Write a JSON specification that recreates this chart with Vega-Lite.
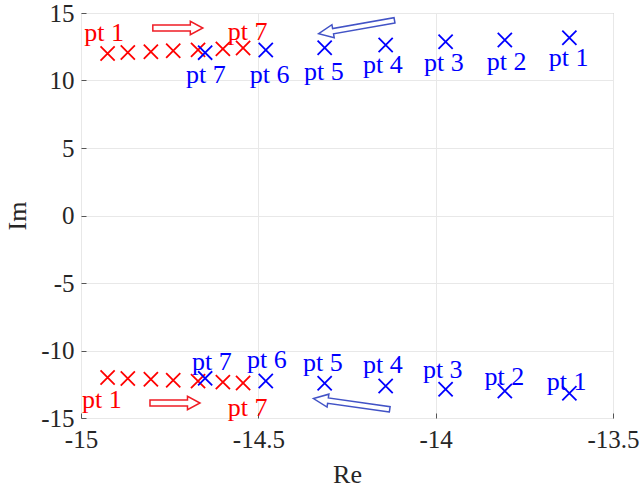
{
  "$schema": "https://vega.github.io/schema/vega-lite/v6.json",
  "autosize": "none",
  "width": 532,
  "height": 405,
  "padding": {"left": 81, "top": 13, "right": 27, "bottom": 70},
  "background": "white",
  "config": {
    "view": {"stroke": "#a8a8a8", "strokeWidth": 1},
    "axis": {
      "labelFont": "Liberation Serif",
      "titleFont": "Liberation Serif",
      "labelFontSize": 25,
      "titleFontSize": 26,
      "titleFontWeight": "normal",
      "labelColor": "#262626",
      "titleColor": "#262626",
      "gridColor": "#e8e8e8",
      "domain": false,
      "tickColor": "#555555",
      "tickSize": -5,
      "labelFlush": false,
      "labelExpr": "replace(datum.label, '\u2212', '-')"
    }
  },
  "datasets": {
    "poles": [
      {"re": -14.925, "im": 12.0, "series": "red"},
      {"re": -14.868, "im": 12.07, "series": "red"},
      {"re": -14.803, "im": 12.13, "series": "red"},
      {"re": -14.74, "im": 12.2, "series": "red"},
      {"re": -14.67, "im": 12.27, "series": "red"},
      {"re": -14.6, "im": 12.34, "series": "red"},
      {"re": -14.543, "im": 12.41, "series": "red"},
      {"re": -14.925, "im": -12.0, "series": "red"},
      {"re": -14.868, "im": -12.07, "series": "red"},
      {"re": -14.803, "im": -12.13, "series": "red"},
      {"re": -14.74, "im": -12.2, "series": "red"},
      {"re": -14.67, "im": -12.27, "series": "red"},
      {"re": -14.6, "im": -12.34, "series": "red"},
      {"re": -14.543, "im": -12.41, "series": "red"},
      {"re": -13.623, "im": 13.17, "series": "blue"},
      {"re": -13.805, "im": 13.0, "series": "blue"},
      {"re": -13.972, "im": 12.87, "series": "blue"},
      {"re": -14.141, "im": 12.63, "series": "blue"},
      {"re": -14.313, "im": 12.43, "series": "blue"},
      {"re": -14.479, "im": 12.26, "series": "blue"},
      {"re": -14.65, "im": 12.06, "series": "blue"},
      {"re": -13.623, "im": -13.17, "series": "blue"},
      {"re": -13.805, "im": -13.0, "series": "blue"},
      {"re": -13.972, "im": -12.87, "series": "blue"},
      {"re": -14.141, "im": -12.63, "series": "blue"},
      {"re": -14.313, "im": -12.43, "series": "blue"},
      {"re": -14.479, "im": -12.26, "series": "blue"},
      {"re": -14.65, "im": -12.06, "series": "blue"}
    ],
    "labels": [
      {"re": -14.648, "im": 10.41, "text": "pt 7", "series": "blue"},
      {"re": -14.468, "im": 10.41, "text": "pt 6", "series": "blue"},
      {"re": -14.315, "im": 10.63, "text": "pt 5", "series": "blue"},
      {"re": -14.149, "im": 11.15, "text": "pt 4", "series": "blue"},
      {"re": -13.977, "im": 11.3, "text": "pt 3", "series": "blue"},
      {"re": -13.8, "im": 11.37, "text": "pt 2", "series": "blue"},
      {"re": -13.625, "im": 11.67, "text": "pt 1", "series": "blue"},
      {"re": -14.631, "im": -10.85, "text": "pt 7", "series": "blue"},
      {"re": -14.476, "im": -10.7, "text": "pt 6", "series": "blue"},
      {"re": -14.318, "im": -10.93, "text": "pt 5", "series": "blue"},
      {"re": -14.149, "im": -11.07, "text": "pt 4", "series": "blue"},
      {"re": -13.98, "im": -11.44, "text": "pt 3", "series": "blue"},
      {"re": -13.806, "im": -11.96, "text": "pt 2", "series": "blue"},
      {"re": -13.631, "im": -12.33, "text": "pt 1", "series": "blue"},
      {"re": -14.935, "im": 13.52, "text": "pt 1", "series": "red"},
      {"re": -14.53, "im": 13.59, "text": "pt 7", "series": "red"},
      {"re": -14.941, "im": -13.67, "text": "pt 1", "series": "red"},
      {"re": -14.53, "im": -14.26, "text": "pt 7", "series": "red"}
    ],
    "arrows": [
      {"re": -14.727, "im": 13.89, "dir": 0, "series": "red"},
      {"re": -14.735, "im": -13.89, "dir": 0, "series": "red"},
      {"re": -14.223, "im": 13.96, "dir": 170, "series": "blue"},
      {"re": -14.237, "im": -13.96, "dir": 188, "series": "blue"}
    ]
  },
  "encoding": {
    "x": {
      "field": "re", "type": "quantitative", "title": "Re",
      "scale": {"domain": [-15, -13.5], "nice": false, "zero": false},
      "axis": {"values": [-15, -14.5, -14, -13.5], "format": "~g", "labelPadding": 14, "titlePadding": 9}
    },
    "y": {
      "field": "im", "type": "quantitative", "title": "Im",
      "scale": {"domain": [-15, 15], "nice": false, "zero": false},
      "axis": {"values": [-15, -10, -5, 0, 5, 10, 15], "format": "~g", "labelPadding": 12, "titlePadding": 10}
    }
  },
  "layer": [
    {
      "data": {"name": "poles"},
      "mark": {"type": "point", "shape": "M-1,-1L1,1M1,-1L-1,1", "filled": false, "size": 200, "strokeWidth": 1.8, "opacity": 1},
      "encoding": {
        "color": {"field": "series", "type": "nominal", "scale": {"domain": ["red", "blue"], "range": ["#ff0000", "#0000ff"]}, "legend": null}
      }
    },
    {
      "data": {"name": "labels"},
      "mark": {"type": "text", "font": "Liberation Serif", "fontSize": 26, "align": "center", "baseline": "middle"},
      "encoding": {
        "text": {"field": "text"},
        "color": {"field": "series", "type": "nominal", "scale": {"domain": ["red", "blue"], "range": ["#ef1c24", "#4253c6"]}, "legend": null}
      }
    },
    {
      "data": {"name": "arrows"},
      "transform": [{"filter": "datum.series == 'red'"}],
      "mark": {"type": "point", "shape": "M-1,-0.12L0.5,-0.12L0.5,-0.27L1,0L0.5,0.27L0.5,0.12L-1,0.12Z", "filled": false, "size": 2500, "strokeWidth": 1.5, "color": "#ef1c24", "opacity": 1},
      "encoding": {"angle": {"field": "dir", "type": "quantitative", "scale": null}}
    },
    {
      "data": {"name": "arrows"},
      "transform": [{"filter": "datum.series == 'blue'"}],
      "mark": {"type": "point", "shape": "M-1,-0.07L0.62,-0.07L0.62,-0.17L1,0L0.62,0.17L0.62,0.07L-1,0.07Z", "filled": false, "size": 5929, "strokeWidth": 1.5, "color": "#4253c6", "opacity": 1},
      "encoding": {"angle": {"field": "dir", "type": "quantitative", "scale": null}}
    }
  ]
}
